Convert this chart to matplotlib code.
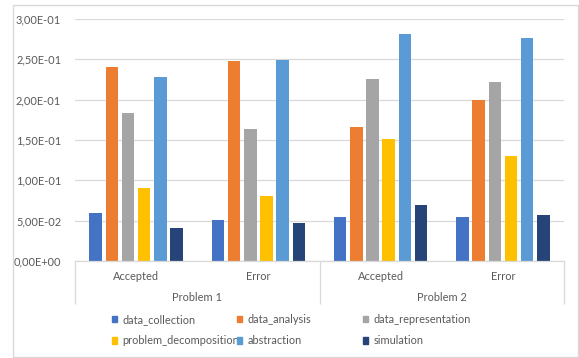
import matplotlib
matplotlib.use("Agg")
import matplotlib.pyplot as plt
import matplotlib.transforms as mtransforms
from matplotlib.patches import Rectangle
from matplotlib.ticker import FuncFormatter, MultipleLocator
import numpy as np

plt.rcParams["font.family"] = ["Lato", "DejaVu Sans"]

problems = ["Problem 1", "Problem 2"]
outcomes = ["Accepted", "Error", "Accepted", "Error"]
series = ["data_collection", "data_analysis", "data_representation",
          "problem_decomposition", "abstraction", "simulation"]
colors = ["#4472C4", "#ED7D31", "#A5A5A5", "#FFC000", "#5B9BD5", "#264478"]

data_collection       = [0.060, 0.051, 0.054, 0.054]
data_analysis         = [0.240, 0.248, 0.166, 0.200]
data_representation   = [0.183, 0.164, 0.225, 0.222]
problem_decomposition = [0.090, 0.081, 0.151, 0.130]
abstraction           = [0.228, 0.249, 0.282, 0.276]
simulation            = [0.041, 0.047, 0.069, 0.057]
values = [data_collection, data_analysis, data_representation,
          problem_decomposition, abstraction, simulation]

W, H = 579, 358
fs = 7.9
fig = plt.figure(figsize=(W / 100, H / 100), dpi=100)
fig.patch.set_facecolor("white")

# outer chart border
fig.patches.append(Rectangle((13 / W, 1 - 357 / H), 565 / W, 352 / H,
                             transform=fig.transFigure, fill=False,
                             edgecolor="#D9D9D9", lw=1.0))

ax = fig.add_axes([75 / W, 1 - 261 / H, 489 / W, 242 / H])
txt = "#595959"
grid = "#D9D9D9"

x = np.arange(len(outcomes))
pitch = 0.1325
width = 0.102
for i, (name, vals, c) in enumerate(zip(series, values, colors)):
    ax.bar(x + (i - 2.5) * pitch, vals, width, color=c, label=name, zorder=3)

ax.set_xlim(-0.5, 3.5)
ax.set_ylim(0, 0.30)
ax.yaxis.set_major_locator(MultipleLocator(0.05))
ax.yaxis.set_major_formatter(FuncFormatter(lambda v, p: ("%.2E" % v).replace(".", ",")))
ax.tick_params(axis="y", length=0, labelsize=fs, labelcolor=txt, pad=10)
ax.tick_params(axis="x", length=0, labelbottom=False)
ax.grid(axis="y", color=grid, lw=0.9, zorder=0)
for s in ["top", "right", "left"]:
    ax.spines[s].set_visible(False)
ax.spines["bottom"].set_color(grid)
ax.spines["bottom"].set_linewidth(0.9)
ax.spines["bottom"].set_zorder(4)

# two-level category axis
trans = mtransforms.blended_transform_factory(ax.transData, ax.transAxes)
for xi, lab in zip(x, outcomes):
    ax.text(xi, -15 / 242, lab, transform=trans, ha="center", va="center",
            fontsize=fs, color=txt)
for k, prob in enumerate(problems):
    ax.text(2 * k + 0.5, -36.5 / 242, prob, transform=trans, ha="center",
            va="center", fontsize=fs, color=txt)
ax.vlines([-0.5, 1.5, 3.5], -43 / 242, 0, transform=trans, colors=grid,
          lw=0.9, clip_on=False)

# legend, three columns of two entries
handles = [Rectangle((0, 0), 1, 1, color=c) for c in colors]
col_x = [112, 237, 363]
for j in range(3):
    idx = [j, j + 3]
    leg = fig.legend([handles[i] for i in idx], [series[i] for i in idx],
                     loc="upper left", bbox_to_anchor=(col_x[j] / W, 1 - 314 / H),
                     frameon=False, fontsize=fs, labelcolor=txt,
                     handlelength=0.5, handleheight=0.5, handletextpad=0.45,
                     labelspacing=0.95, borderpad=0, borderaxespad=0)

fig.savefig("out.png", dpi=100)
